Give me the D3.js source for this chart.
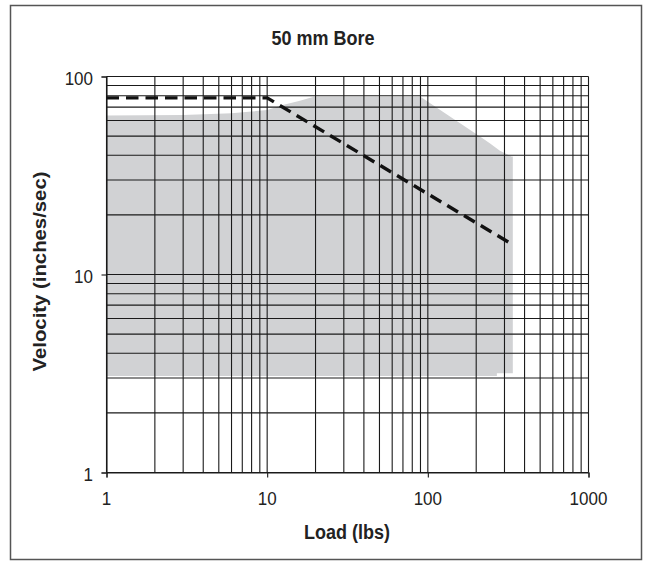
<!DOCTYPE html>
<html><head><meta charset="utf-8">
<script src="https://cdn.jsdelivr.net/npm/d3@7"></script>
<style>body{margin:0;background:#fff} text{font-family:"Liberation Sans",Arial,Helvetica,sans-serif;fill:#222}</style>
</head><body><svg id="c" width="647" height="561"></svg>
<script>
const title = "50 mm Bore";
const xLabel = "Load (lbs)";
const yLabel = "Velocity (inches/sec)";
const xTickLabels = [1, 10, 100, 1000];
const yTickLabels = [1, 10, 100];
// operating envelope (gray region): upper edge then lower edge
const envelopeTopLoad = [1, 3, 6, 8, 10, 12.5, 16, 19.5, 90, 124, 211, 243, 281, 332, 338];
const envelopeTopVelocity = [63.5, 64, 65.2, 66.5, 67.7, 71.8, 75.5, 79, 79, 66.4, 49.7, 46, 42.2, 39.4, 39.4];
const envelopeBottomLoad = [338, 269, 269, 1];
const envelopeBottomVelocity = [3.17, 3.17, 3.07, 3.07];
// maximum velocity limit (dashed line)
const limitLoad = [1, 10, 335];
const limitVelocity = [78, 78, 14.2];

const svg = d3.select("#c");
const m = {left: 106.5, right: 588.5, top: 76.5, bottom: 472.5};
const x = d3.scaleLog().domain([1, 1000]).range([m.left, m.right]);
const y = d3.scaleLog().domain([1, 100]).range([m.bottom, m.top]);
const SY = 1.13; // vertical stretch of the lettering

// frame
svg.append("rect").attr("x", 10.5).attr("y", 5.5).attr("width", 631).attr("height", 554)
  .attr("fill", "none").attr("stroke", "#555").attr("stroke-width", 1.5);

// envelope
const env = envelopeTopLoad.map((d, i) => [d, envelopeTopVelocity[i]])
  .concat(envelopeBottomLoad.map((d, i) => [d, envelopeBottomVelocity[i]]));
svg.append("path").datum(env)
  .attr("d", d3.line().x(d => x(d[0])).y(d => y(d[1])).curve(d3.curveLinearClosed))
  .attr("fill", "#d1d2d4");

// grid
const g = svg.append("g").attr("stroke", "#1a1a1a").attr("stroke-width", 1.1);
g.selectAll("line.v").data(x.ticks()).join("line").attr("class", "v")
  .attr("x1", d => x(d)).attr("x2", d => x(d)).attr("y1", m.top).attr("y2", m.bottom);
g.selectAll("line.h").data(y.ticks()).join("line").attr("class", "h")
  .attr("y1", d => y(d)).attr("y2", d => y(d)).attr("x1", m.left).attr("x2", m.right);

// axes (ticks + domain)
const xAxis = svg.append("g").attr("transform", `translate(0,${m.bottom})`)
  .call(d3.axisBottom(x).tickValues(xTickLabels).tickFormat("").tickSize(5));
const yAxis = svg.append("g").attr("transform", `translate(${m.left},0)`)
  .call(d3.axisLeft(y).tickValues(yTickLabels).tickFormat("").tickSize(5));
[xAxis, yAxis].forEach(a => {
  a.select(".domain").attr("stroke", "#1a1a1a").attr("stroke-width", 1.1);
  a.selectAll(".tick line").attr("stroke", "#1a1a1a").attr("stroke-width", 1.1);
});
// tick labels
svg.append("g").selectAll("text").data(xTickLabels).join("text")
  .attr("transform", d => `translate(${x(d)},504.5) scale(1,${SY})`)
  .attr("text-anchor", "middle").attr("font-size", 17).text(d => d);
svg.append("g").selectAll("text").data(yTickLabels).join("text")
  .attr("transform", d => `translate(93,${y(d) + 8}) scale(1,${SY})`)
  .attr("text-anchor", "end").attr("font-size", 17).text(d => d);

// dashed limit line
svg.append("path").datum(limitLoad.map((d, i) => [d, limitVelocity[i]]))
  .attr("d", d3.line().x(d => x(d[0])).y(d => y(d[1])))
  .attr("fill", "none").attr("stroke", "#111").attr("stroke-width", 3.4)
  .attr("stroke-dasharray", "12.5,7");

// titles
svg.append("text").attr("transform", `translate(323,45) scale(1,${SY})`).attr("text-anchor", "middle")
  .attr("font-size", 18).attr("font-weight", "bold").text(title);
svg.append("text").attr("transform", `translate(347,538.5) scale(1,${SY})`).attr("text-anchor", "middle")
  .attr("font-size", 18).attr("font-weight", "bold").text(xLabel);
svg.append("text").attr("transform", `translate(46,271.5) scale(1,${SY}) rotate(-90)`).attr("text-anchor", "middle")
  .attr("font-size", 18).attr("font-weight", "bold").text(yLabel);
</script></body></html>
